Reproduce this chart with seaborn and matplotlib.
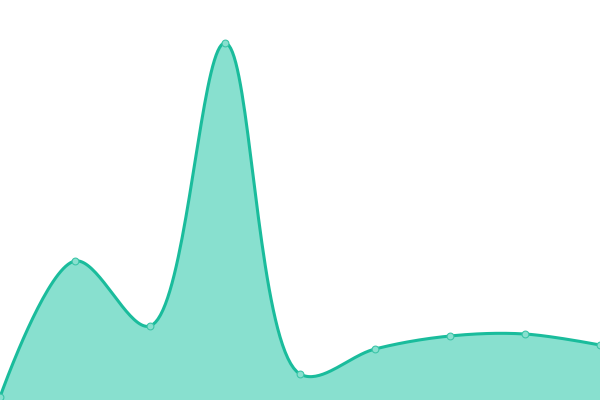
import numpy as np
import pandas as pd
import matplotlib
matplotlib.use("Agg")
import matplotlib.pyplot as plt
import seaborn as sns

# Data
categories = list(range(9))
values = [3, 139, 74, 357, 26, 51, 64, 66, 55]

LINE = "#1abc9c"
FILL = "#88e0cf"
MARK_EDGE = "#3cc5a8"

def catmull_rom(xs, ys, xscale=75.0, alpha=0.5, n=40):
    # centripetal Catmull-Rom (d3 curveCatmullRom), computed in pixel space
    P = np.column_stack([np.asarray(xs, float) * xscale, np.asarray(ys, float)])
    m = len(P)
    t = np.linspace(0, 1, n)
    out = []
    for i in range(m - 1):
        p1, p2 = P[i], P[i + 1]
        p0 = P[i - 1] if i > 0 else None
        p3 = P[i + 2] if i + 2 < m else None
        l12 = np.linalg.norm(p2 - p1)
        l12a, l12_2a = l12 ** alpha, l12 ** (2 * alpha)
        c1 = p1.copy()
        if p0 is not None:
            l01 = np.linalg.norm(p1 - p0)
            l01a, l01_2a = l01 ** alpha, l01 ** (2 * alpha)
            a = 2 * l01_2a + 3 * l01a * l12a + l12_2a
            nn = 3 * l01a * (l01a + l12a)
            c1 = (p1 * a - p0 * l12_2a + p2 * l01_2a) / nn
        c2 = p2.copy()
        if p3 is not None:
            l23 = np.linalg.norm(p3 - p2)
            l23a, l23_2a = l23 ** alpha, l23 ** (2 * alpha)
            b = 2 * l23_2a + 3 * l23a * l12a + l12_2a
            mm = 3 * l23a * (l23a + l12a)
            c2 = (p2 * b + p1 * l23_2a - p3 * l12_2a) / mm
        tt = t[:, None]
        seg = (1 - tt) ** 3 * p1 + 3 * (1 - tt) ** 2 * tt * c1 + 3 * (1 - tt) * tt ** 2 * c2 + tt ** 3 * p2
        out.append(seg if i == 0 else seg[1:])
    S = np.vstack(out)
    return S[:, 0] / xscale, S[:, 1]

df = pd.DataFrame({"x": categories, "y": values})
sx, sy = catmull_rom(df["x"], df["y"])

fig = plt.figure(figsize=(6, 4), dpi=100)
ax = fig.add_axes([0, 0, 1, 1])
ax.fill_between(sx, 0, sy, color=FILL, linewidth=0, zorder=1)
ax.plot(sx, sy, color=LINE, linewidth=2.2, zorder=2, solid_capstyle="round")
sns.scatterplot(data=df, x="x", y="y", ax=ax, s=24, color=FILL,
                edgecolor=MARK_EDGE, linewidth=0.8, zorder=3, clip_on=False)
ax.set_xlim(0, 8)
ax.set_ylim(0, 400)
ax.axis("off")
fig.savefig("out.png", dpi=100)
